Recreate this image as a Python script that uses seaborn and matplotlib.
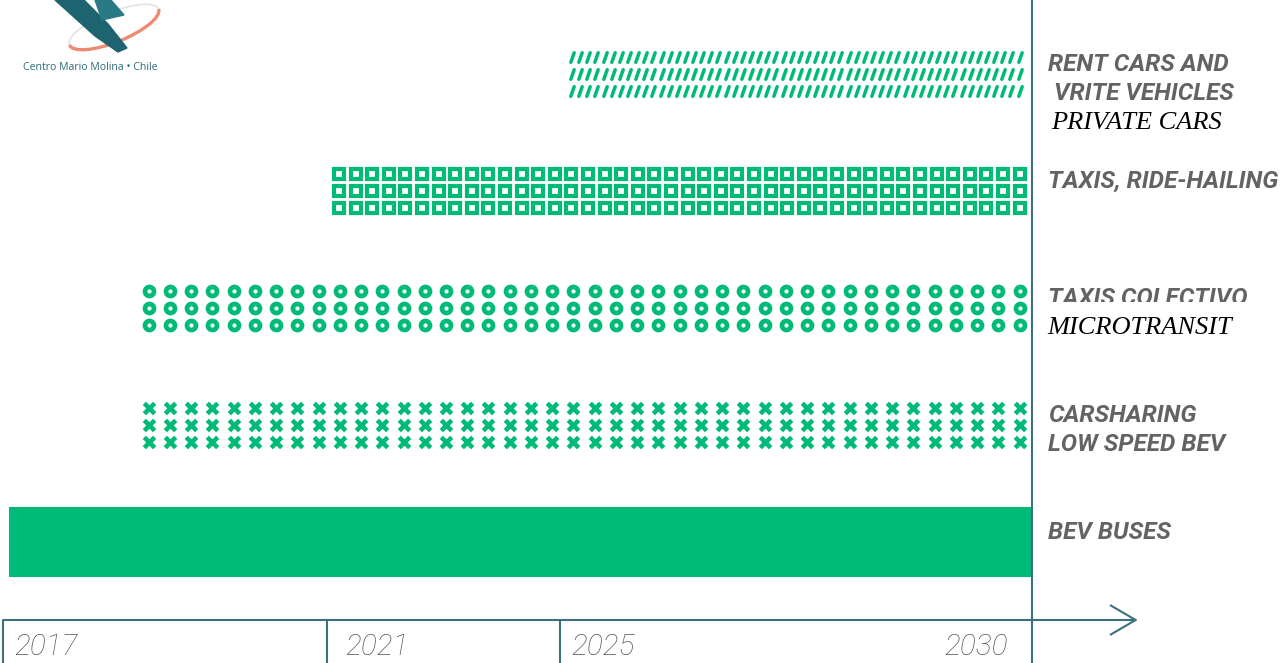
import numpy as np
import pandas as pd
import matplotlib
matplotlib.use("Agg")
import matplotlib.pyplot as plt
from matplotlib.path import Path
from matplotlib.patches import Polygon, Arc
import seaborn as sns

# ---- timeline content (top row first) ----
label_lines = [
    ["RENT CARS AND", " VRITE VEHICLES", "PRIVATE CARS"],
    ["TAXIS, RIDE-HAILING"],
    ["TAXIS COLECTIVO", "MICROTRANSIT"],
    ["CARSHARING", "LOW SPEED BEV"],
    ["BEV BUSES"],
]
serif_lines = ["PRIVATE CARS", "MICROTRANSIT"]
start_years = [2025.0, 2021.0, 2018.65, 2018.65, 2017.07]
end_years = [2030.0, 2030.0, 2030.0, 2030.0, 2030.0]
fill_styles = ["dash", "square", "ring", "cross", "solid"]

tick_years = [2017, 2021, 2025, 2030]
tick_labels = ["2017", "2021", "2025", "2030"]

# ---- styling ----
W, H, DPI = 1283, 663, 100
GREEN = "#00BA77"
TEAL = "#3B6F7B"
LABEL_GREY = "#636363"
YEAR_GREY = "#5a5a5a"

# The milestones sit at uneven distances along the time axis,
# so the x axis uses a piecewise-linear scale (units: pixels across the figure).
stop_years = np.array([1990.0, 2017.0, 2021.0, 2025.0, 2030.0, 2060.0])
stop_pos = np.array([3 - 27 * 81.0, 3.0, 327.0, 560.0, 1032.0, 1032 + 30 * 94.4])


def to_pos(x):
    return np.interp(x, stop_years, stop_pos)


def to_year(p):
    return np.interp(p, stop_pos, stop_years)


# vertical layout in row units
ROW_PX = 116.95
FIRST_ROW_PX = 74.2
y_top = -FIRST_ROW_PX / ROW_PX
y_bottom = (H - FIRST_ROW_PX) / ROW_PX
axis_y = (620 - FIRST_ROW_PX) / ROW_PX
sub_gap = 17.0 / ROW_PX
bar_height = 70 / ROW_PX
axis_end_year = 2031.12

dash_marker = Path([(-0.35, -1.0), (0.35, 1.0)], [Path.MOVETO, Path.LINETO])
pattern_kw = {
    "dash": dict(marker=dash_marker, s=48, linewidth=2.5, edgecolor=GREEN,
                 facecolor=GREEN, capstyle="round"),
    "square": dict(marker="s", s=46, linewidth=3.0, edgecolor=GREEN,
                   facecolor="white", joinstyle="miter"),
    "ring": dict(marker="o", s=42, linewidth=3.4, edgecolor=GREEN,
                 facecolor="white"),
    "cross": dict(marker="x", s=56, linewidth=3.3, color=GREEN),
}
pattern_step = {"dash": 8.13, "square": 16.6, "ring": 21.27, "cross": 21.27}
PAD_L, PAD_R = 12.0, 12.5

line_indent = {"PRIVATE CARS": 19, "MICROTRANSIT": 15}

sns.set_theme(style="white")
plt.rcParams["font.family"] = ["Roboto", "DejaVu Sans"]

fig = plt.figure(figsize=(W / DPI, H / DPI), dpi=DPI)
ax = fig.add_axes([0, 0, 1, 1])
ax.set_xscale("function", functions=(to_pos, to_year))
ax.set_xlim(to_year(0.0), to_year(float(W)))
ax.set_ylim(y_bottom, y_top)
ax.axis("off")

# ---- patterned rows and the solid bar ----
for i, (x0, x1, style) in enumerate(zip(start_years, end_years, fill_styles)):
    if style == "solid":
        ax.barh(i, x1 - x0, left=x0, height=bar_height, color=GREEN,
                edgecolor="none", zorder=2)
        continue
    p0, p1 = to_pos(x0) + PAD_L, to_pos(x1) - PAD_R
    n = int(round((p1 - p0) / pattern_step[style])) + 1
    xs = to_year(np.linspace(p0, p1, n))
    df = pd.DataFrame({
        "x": np.tile(xs, 3),
        "y": np.repeat([i - sub_gap, i, i + sub_gap], n),
    })
    sns.scatterplot(data=df, x="x", y="y", ax=ax, legend=False, zorder=3,
                    **pattern_kw[style])

ax.set_xlim(to_year(0.0), to_year(float(W)))
ax.set_ylim(y_bottom, y_top)

# ---- row labels ----
for i, lines in enumerate(label_lines):
    for k, line in enumerate(lines):
        serif = line in serif_lines
        kw = dict(family=["Liberation Serif"], style="italic", size=19,
                  color="black") if serif else \
            dict(family=["Roboto"], weight="bold", style="italic", size=17.6,
                 color=LABEL_GREY)
        if line == "MICROTRANSIT":
            # white backing that overlaps the line above it
            kw["bbox"] = dict(boxstyle="square,pad=0.56", fc="white", ec="none")
        ax.annotate(line, xy=(2030, i), xytext=(line_indent.get(line, 16), 3 - 29 * k),
                    textcoords="offset pixels", ha="left", va="baseline",
                    annotation_clip=False, zorder=5 + k, **kw)

# ---- time axis ----
ax.vlines(tick_years[:-1], axis_y, y_bottom, color=TEAL, lw=1.5, zorder=10)
ax.vlines(tick_years[-1], y_top, y_bottom, color=TEAL, lw=1.5, zorder=10)
ax.annotate("", xy=(axis_end_year, axis_y), xytext=(2017, axis_y),
            arrowprops=dict(arrowstyle="->,head_length=1.8,head_width=1.05",
                            color=TEAL, lw=1.5, shrinkA=0, shrinkB=0,
                            mutation_scale=10),
            annotation_clip=False, zorder=10)

year_shift = [11, 18, 11, -24]
for yr, lab, dx in zip(tick_years, tick_labels, year_shift):
    ax.annotate(lab, xy=(yr, axis_y), xytext=(dx, -35), textcoords="offset pixels",
                ha="left" if dx > 0 else "right", va="baseline",
                family=["Roboto"], weight="light", style="italic", size=21.5,
                color=YEAR_GREY, annotation_clip=False)

# ---- organisation logo, top left ----
lax = fig.add_axes([0, 0, 1, 1], zorder=6)
lax.set_xlim(0, W)
lax.set_ylim(H, 0)
lax.axis("off")
lax.patch.set_alpha(0)
lax.add_patch(Arc((114, 27), 96, 30, angle=-22, theta1=180, theta2=360,
                  color="#dfe5e6", lw=1.2))
lax.add_patch(Arc((114, 27), 96, 30, angle=-22, theta1=0, theta2=180,
                  color="#ee8a72", lw=2.4))
lax.add_patch(Polygon([(55, 0), (84, 0), (108, 24), (127, 48), (118, 52), (95, 36)],
                      closed=True, color="#1d6470"))
lax.add_patch(Polygon([(95, 0), (111, 0), (124, 15), (102, 20)],
                      closed=True, color="#2a7a86"))
lax.text(23, 68, "Centro Mario Molina • Chile", family=["Open Sans", "DejaVu Sans"],
         size=7.6, color="#2c6b78", va="center", ha="left")

fig.savefig("out.png", dpi=DPI)
